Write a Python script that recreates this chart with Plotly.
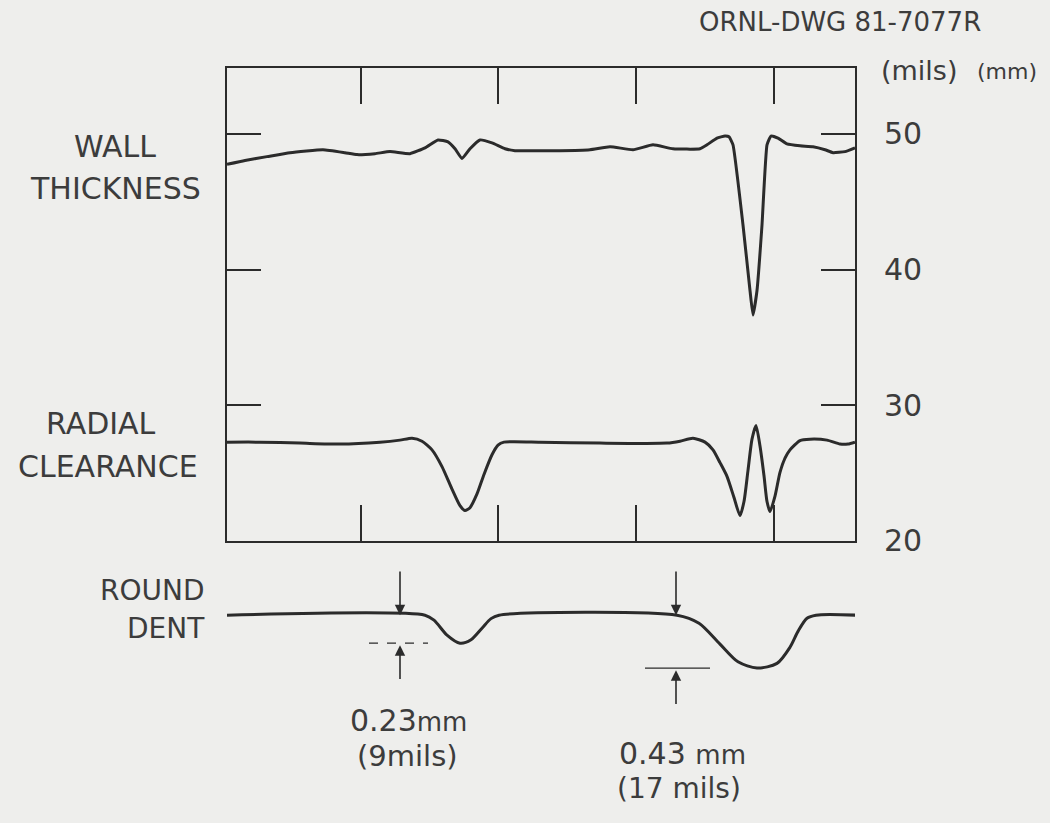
import plotly.graph_objects as go

# ---------------- data ----------------
# scan position (arbitrary units across the chart box)
wall_x = [0, 18, 40, 63, 96, 118, 130, 148, 163, 183, 198, 211, 221, 228, 235, 243, 253, 265,
          278, 288, 303, 333, 363, 383, 406, 426, 446, 473, 480, 490, 498, 502, 506, 516, 523,
          526, 530, 535, 540, 544, 551, 560, 573, 586, 598, 606, 618, 628]
wall_mils = [47.76, 48.05, 48.33, 48.62, 48.84, 48.62, 48.48, 48.55, 48.70, 48.55, 48.98, 49.56,
             49.42, 48.91, 48.19, 48.91, 49.56, 49.34, 48.91, 48.77, 48.77, 48.77, 48.84, 49.06,
             48.84, 49.20, 48.91, 48.91, 49.20, 49.70, 49.85, 49.80, 49.20, 43.29, 38.46, 36.65,
             38.46, 43.29, 49.20, 49.85, 49.70, 49.27, 49.13, 49.06, 48.84, 48.62, 48.70, 48.98]

clear_x = [0, 33, 73, 113, 153, 173, 185, 195, 205, 215, 225, 233, 238, 243, 250, 257, 265, 271,
           277, 313, 373, 440, 453, 466, 478, 486, 493, 500, 507, 513, 517, 521, 525, 529, 533,
           537, 540, 543, 548, 553, 558, 563, 573, 583, 600, 613, 621, 628]
clear_mils = [27.28, 27.28, 27.21, 27.14, 27.28, 27.43, 27.57, 27.35, 26.71, 25.48, 23.82, 22.60,
              22.24, 22.45, 23.46, 24.90, 26.35, 27.06, 27.28, 27.28, 27.21, 27.21, 27.35, 27.57,
              27.28, 26.71, 25.77, 24.76, 23.20, 21.87, 22.90, 25.20, 27.50, 28.51, 27.00, 24.80,
              22.90, 22.16, 23.30, 25.05, 26.10, 26.71, 27.40, 27.50, 27.43, 27.14, 27.14, 27.28]

dent_x = [0, 198, 207, 220, 233, 244, 255, 264, 272, 450, 472, 493, 511, 530, 550, 563, 571,
          580, 589, 630]
dent_mils = [0, 0, -1.6, -6.4, -9.0, -7.9, -4.2, -1.1, 0, 0, -2.6, -9.3, -15.0, -17.0, -15.5,
             -10.3, -5.2, -1.0, 0, 0]

x_ticks = [134, 271, 409, 547]
mils_ticks = [20, 30, 40, 50]
mils_text = ["20", "30", "40", "50"]
mm_text = ["0.50", "0.76", "1.02", "1.27"]

# dent measurement marks: position, depth (mils)
dent_marks_x = [173, 449]
dent_depths = [9, 17]
dent_mm = ["0.23", "0.43"]
dent_mils_text = ["(9mils)", "(17 mils)"]

# ---------------- figure ----------------
INK = "#2b2b2b"
TXT = "#3c3c3c"
BG = "#eeeeec"
FONT = "DejaVu Sans"

W, H = 1050, 823
def fx(px):
    return px / W
def fy(py):
    return 1 - py / H

fig = go.Figure()
fig.add_trace(go.Scatter(x=wall_x, y=wall_mils, mode="lines", xaxis="x", yaxis="y",
                         line=dict(color=INK, width=3, shape="spline", smoothing=0.4),
                         showlegend=False, hoverinfo="skip"))
fig.add_trace(go.Scatter(x=clear_x, y=clear_mils, mode="lines", xaxis="x", yaxis="y",
                         line=dict(color=INK, width=3, shape="spline", smoothing=0.6),
                         showlegend=False, hoverinfo="skip"))
fig.add_trace(go.Scatter(x=dent_x, y=dent_mils, mode="lines", xaxis="x", yaxis="y2",
                         line=dict(color=INK, width=3, shape="spline", smoothing=0.8),
                         showlegend=False, hoverinfo="skip", cliponaxis=False))

yr = [20, 54.83]
fig.update_layout(
    width=W, height=H, margin=dict(l=0, r=0, t=0, b=0),
    paper_bgcolor=BG, plot_bgcolor=BG,
    font=dict(family=FONT, color=TXT),
    xaxis=dict(domain=[fx(227), fx(855)], range=[0, 628], anchor="y",
               showline=True, linecolor=INK, linewidth=2, mirror="ticks",
               ticks="inside", ticklen=36, tickwidth=1.5, tickcolor=INK,
               tickvals=x_ticks, showticklabels=False, showgrid=False, zeroline=False),
    yaxis=dict(domain=[fy(553), fy(70)], range=yr, anchor="x", side="right",
               showline=True, linecolor=INK, linewidth=2, mirror="ticks",
               ticks="inside", ticklen=34, tickwidth=1.5, tickcolor=INK,
               tickvals=mils_ticks, ticktext=mils_text, ticklabelstandoff=21,
               tickfont=dict(size=30, color=TXT, family=FONT),
               showgrid=False, zeroline=False),
    yaxis2=dict(domain=[0.1083, 0.2976], range=[-33, 16], anchor="x", visible=False),
    yaxis3=dict(overlaying="y", side="right", anchor="free", position=fx(963), range=yr,
                tickvals=mils_ticks, ticktext=mm_text, ticks="", showline=False,
                showgrid=False, zeroline=False, tickfont=dict(size=21, color=TXT, family=FONT)),
)

# side labels (text, x, y, anchor, size)
side_labels = [("WALL", 115, 150, "center", 30), ("THICKNESS", 115, 193, "center", 30),
               ("RADIAL", 101, 433, "center", 30), ("CLEARANCE", 108, 477, "center", 30),
               ("ROUND", 207, 604, "right", 28), ("DENT", 207, 643, "right", 28)]
for t, x, y, a, s in side_labels:
    fig.add_annotation(text=t, x=fx(x), y=fy(y), xref="paper", yref="paper",
                       showarrow=False, font=dict(size=s, color=TXT), xanchor=a, yanchor="middle")

# header + unit titles
fig.add_annotation(text="ORNL-DWG 81-7077R", x=fx(983), y=fy(22), xref="paper", yref="paper",
                   showarrow=False, font=dict(size=26, color=TXT), xanchor="right", yanchor="middle")
fig.add_annotation(text="(mils)", x=fx(879), y=fy(72), xref="paper", yref="paper",
                   showarrow=False, font=dict(size=27, color=TXT), xanchor="left", yanchor="middle")
fig.add_annotation(text="(mm)", x=fx(975), y=fy(73), xref="paper", yref="paper",
                   showarrow=False, font=dict(size=22, color=TXT), xanchor="left", yanchor="middle")

# dent measurement arrows
for i, (mx, d) in enumerate(zip(dent_marks_x, dent_depths)):
    # top arrow pointing down onto the undented baseline
    fig.add_annotation(x=mx, y=0, ax=mx, ay=14.5, xref="x", yref="y2", axref="x", ayref="y2",
                       text="", showarrow=True, arrowhead=2, arrowsize=1.3, arrowwidth=1.6,
                       arrowcolor=INK)
    # bottom arrow pointing up to the dent depth
    fig.add_annotation(x=mx, y=-d - 0.7, ax=mx, ay=-d - 12, xref="x", yref="y2", axref="x",
                       ayref="y2", text="", showarrow=True, arrowhead=2, arrowsize=1.3,
                       arrowwidth=1.6, arrowcolor=INK)
    fig.add_shape(type="line", xref="x", yref="y2", x0=mx - 31, x1=mx + 28 + 6 * i, y0=-d, y1=-d,
                  line=dict(color=INK, width=1.2, dash="dash" if i == 0 else "solid"))

label_pos = [((408, 737), (407, 773)), ((682, 770), (679, 806))]
sep = ["", " "]
mils_sizes = [29, 28]
for i, ((x1, y1), (x2, y2)) in enumerate(label_pos):
    l1 = dent_mm[i] + sep[i] + "<span style='font-size:26px'>mm</span>"
    fig.add_annotation(text=l1, x=fx(x1), y=fy(y1), xref="paper", yref="paper", showarrow=False,
                       font=dict(size=30, color=TXT), xanchor="center", yanchor="middle")
    fig.add_annotation(text=dent_mils_text[i], x=fx(x2), y=fy(y2), xref="paper", yref="paper",
                       showarrow=False, font=dict(size=mils_sizes[i], color=TXT), xanchor="center",
                       yanchor="middle")

fig.write_html("out.html")
